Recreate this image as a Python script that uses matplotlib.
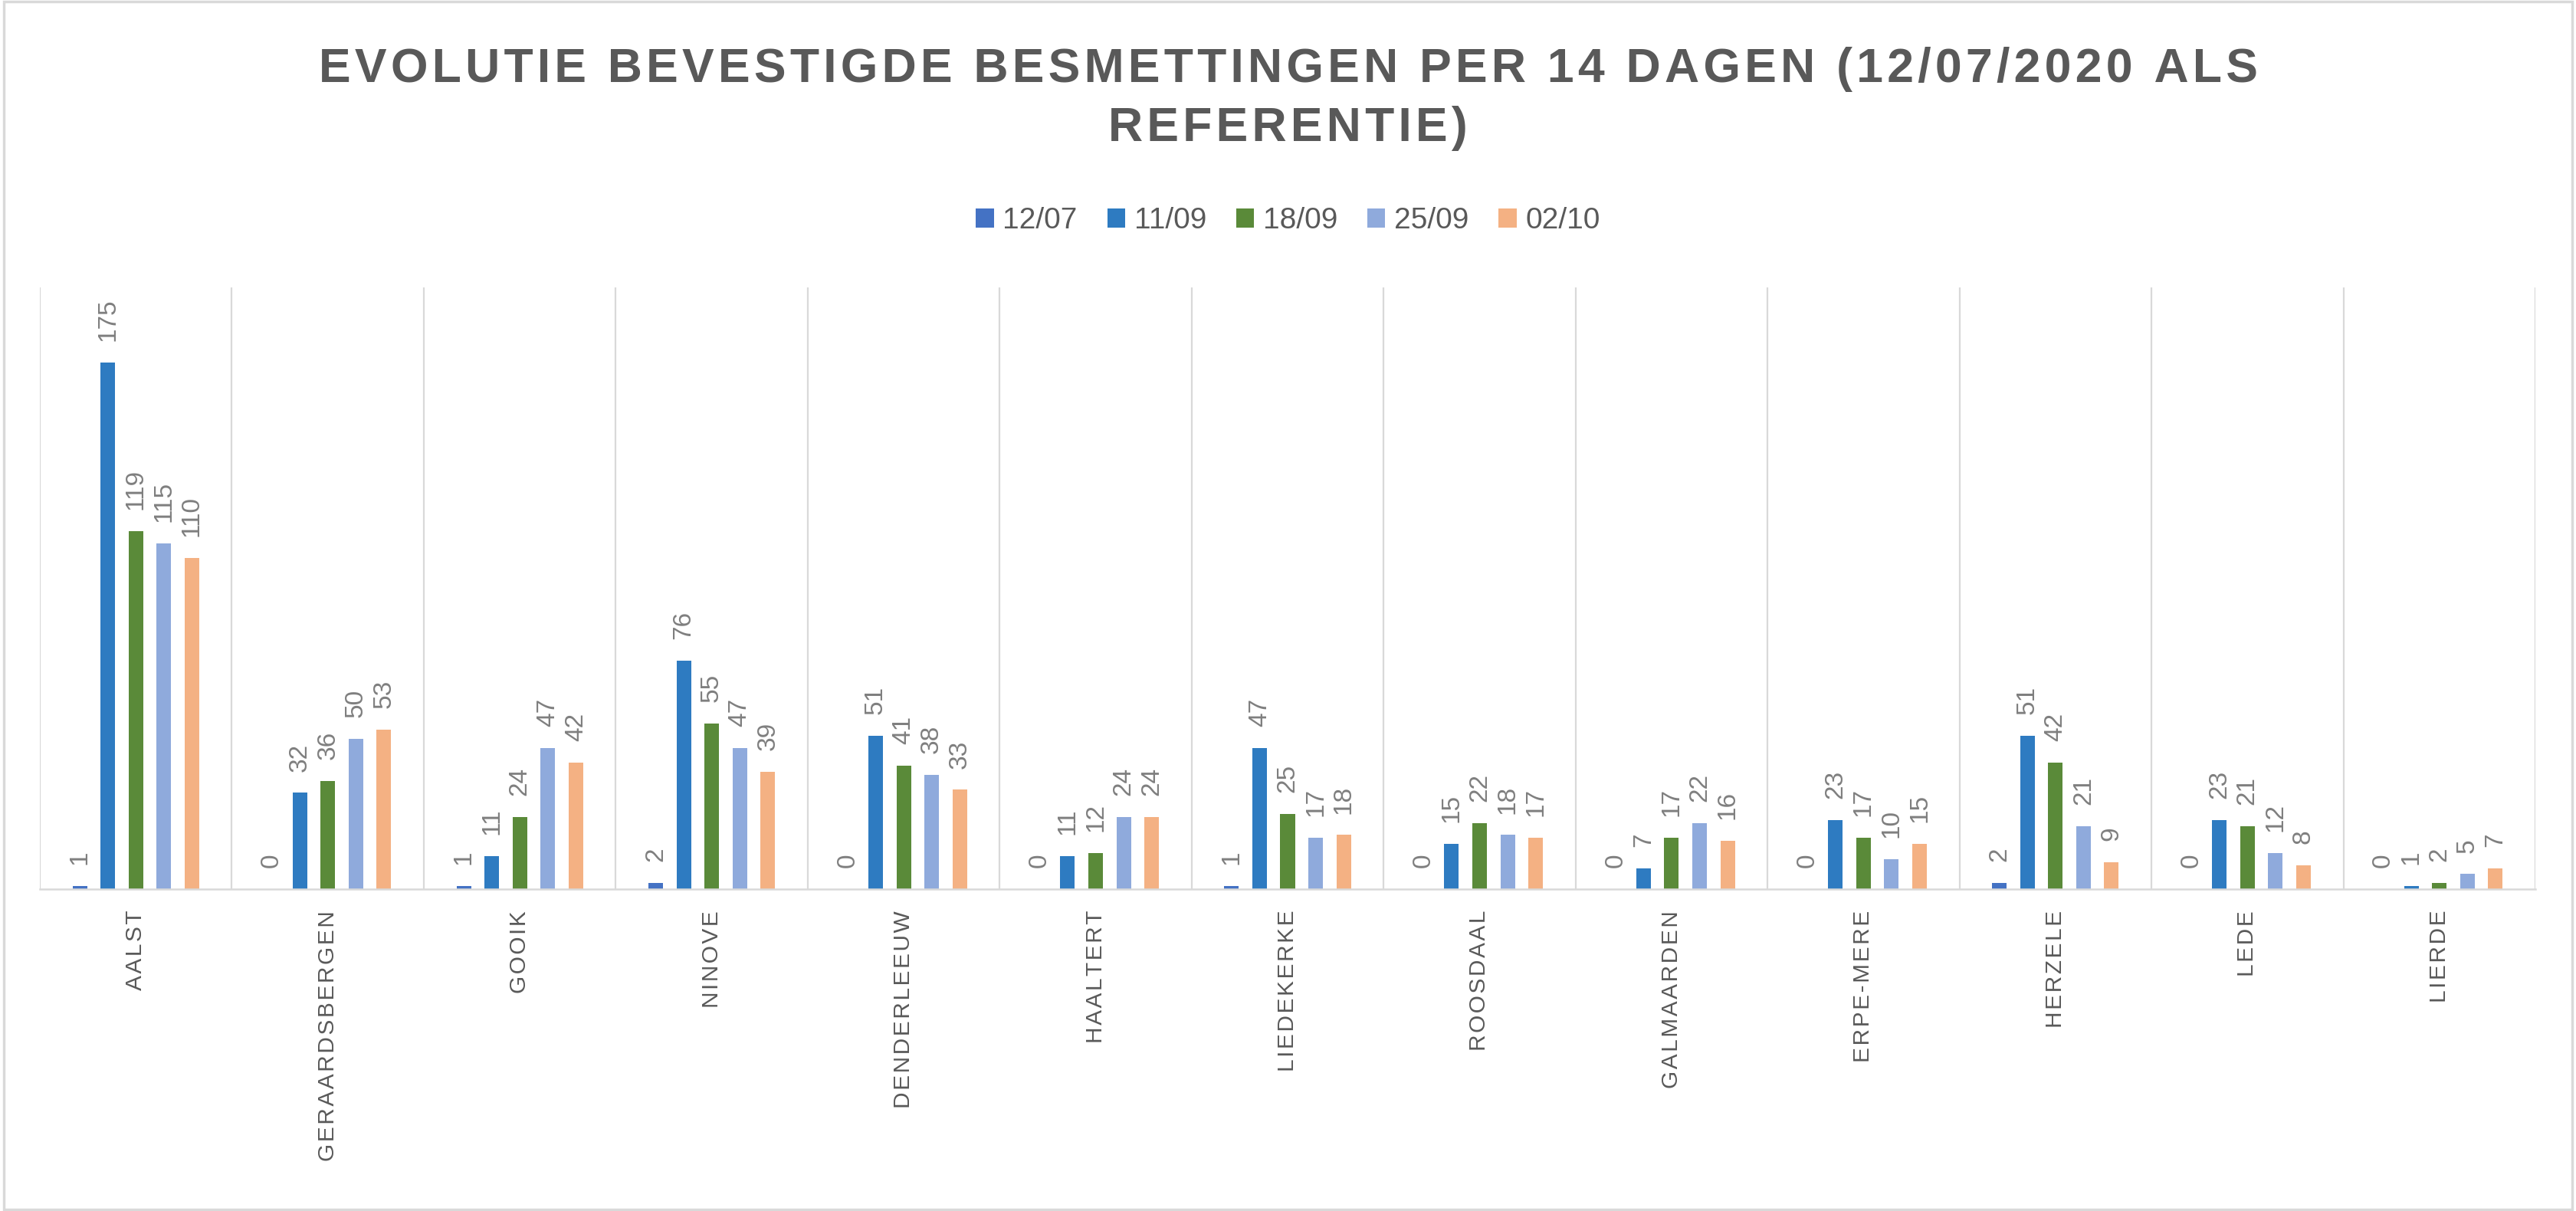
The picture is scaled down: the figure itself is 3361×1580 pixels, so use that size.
import numpy as np
import matplotlib
matplotlib.use("Agg")
import matplotlib.pyplot as plt
from matplotlib.patches import Rectangle, Patch

plt.rcParams['font.family'] = ['Liberation Sans', 'DejaVu Sans']

gemeenten = ["AALST", "GERAARDSBERGEN", "GOOIK", "NINOVE", "DENDERLEEUW",
             "HAALTERT", "LIEDEKERKE", "ROOSDAAL", "GALMAARDEN", "ERPE-MERE",
             "HERZELE", "LEDE", "LIERDE"]
datums = ["12/07", "11/09", "18/09", "25/09", "02/10"]

v_1207 = [1, 0, 1, 2, 0, 0, 1, 0, 0, 0, 2, 0, 0]
v_1109 = [175, 32, 11, 76, 51, 11, 47, 15, 7, 23, 51, 23, 1]
v_1809 = [119, 36, 24, 55, 41, 12, 25, 22, 17, 17, 42, 21, 2]
v_2509 = [115, 50, 47, 47, 38, 24, 17, 18, 22, 10, 21, 12, 5]
v_0210 = [110, 53, 42, 39, 33, 24, 18, 17, 16, 15, 9, 8, 7]

series = [v_1207, v_1109, v_1809, v_2509, v_0210]
kleuren = ["#4472C4", "#2E7BC1", "#5A8A39", "#8FAADC", "#F4B183"]

titel = "EVOLUTIE BEVESTIGDE BESMETTINGEN PER 14 DAGEN (12/07/2020 ALS\nREFERENTIE)"


def spatie(s, sep):
    # letter spacing by putting a small space between characters
    return "\n".join(sep.join(regel) for regel in s.split("\n"))


W, H = 3361, 1580
fig = plt.figure(figsize=(W / 100, H / 100), dpi=100)
fig.patch.set_facecolor("white")

# chart border
fig.patches.append(Rectangle((0.0015, 0.0015), 0.997, 0.997, transform=fig.transFigure,
                             fill=False, edgecolor="#D9D9D9", linewidth=2.5))

ax = fig.add_axes([52 / W, 1 - 1160 / H, (3308 - 52) / W, (1160 - 375) / H])

x = np.arange(len(gemeenten))
pitch = 0.146
bw = 0.076
for i, (vals, kleur) in enumerate(zip(series, kleuren)):
    pos = x + (i - 2) * pitch
    ax.bar(pos, vals, width=bw, color=kleur, zorder=3)
    for px, v in zip(pos, vals):
        ax.annotate(str(v), (px, v), xytext=(0, 20), textcoords="offset points",
                    rotation=90, ha="center", va="bottom", fontsize=24,
                    color="#7F7F7F")

ax.set_xlim(-0.5, len(gemeenten) - 0.5)
ax.set_ylim(0, 200)
ax.set_yticks([])

# vertical gridlines between categories
for b in np.arange(-0.5, len(gemeenten), 1.0):
    ax.axvline(b, color="#D9D9D9", linewidth=1.6, zorder=1)

for s in ["top", "right", "left"]:
    ax.spines[s].set_visible(False)
ax.spines["bottom"].set_color("#D9D9D9")
ax.spines["bottom"].set_linewidth(1.8)
ax.spines["bottom"].set_zorder(4)

ax.set_xticks(x)
ax.set_xticklabels([spatie(g, "\u200a") for g in gemeenten], rotation=90,
                   fontsize=21.5, color="#595959", va="top", ha="center")
ax.tick_params(axis="x", length=0, pad=20)

handles = [Patch(facecolor=k, edgecolor="none") for k in kleuren]
leg = fig.legend(handles, datums, loc="center", bbox_to_anchor=(0.5, 1 - 288 / H),
                 ncol=5, frameon=False, fontsize=28, handlelength=0.6,
                 handleheight=0.6, handletextpad=0.3, columnspacing=1.0)
for t in leg.get_texts():
    t.set_color("#595959")

fig.text(0.5, 1 - 129 / H, spatie(titel, "\u200a"),
         ha="center", va="center", fontsize=45, fontweight="bold",
         color="#595959", linespacing=1.4)

fig.savefig("out.png", dpi=100)
plt.close(fig)
